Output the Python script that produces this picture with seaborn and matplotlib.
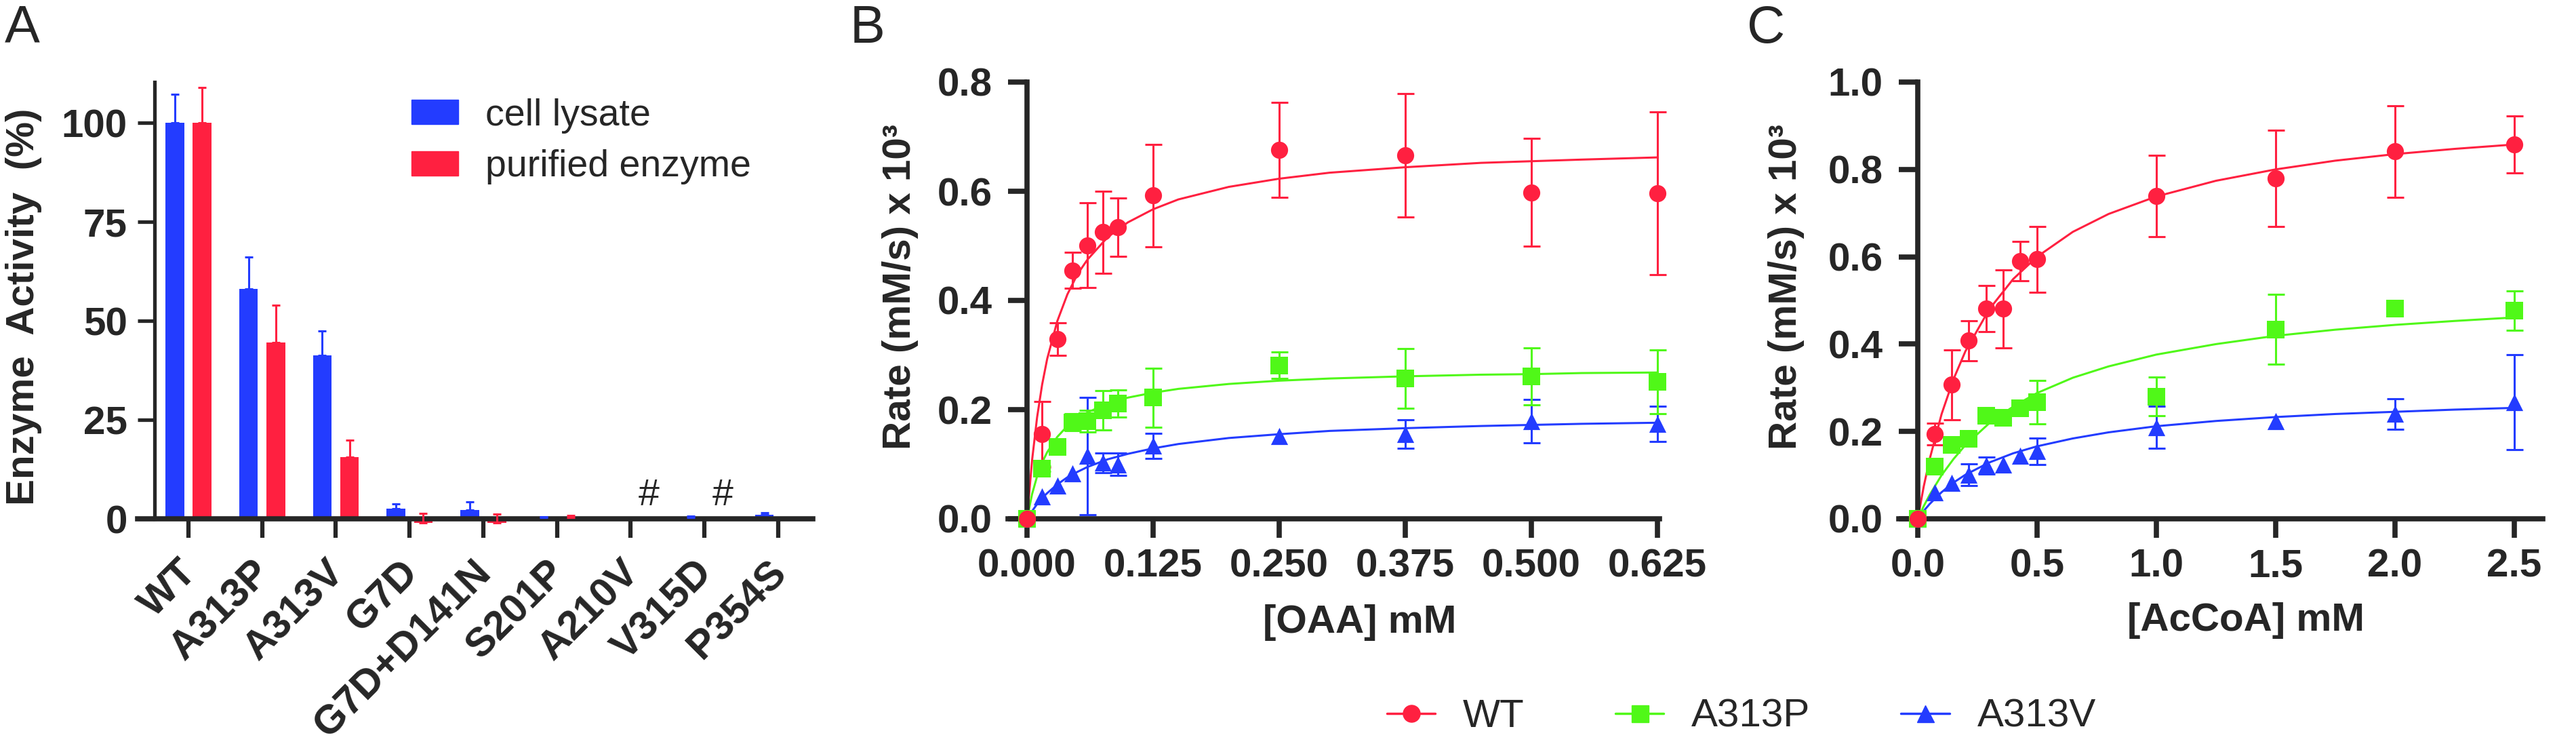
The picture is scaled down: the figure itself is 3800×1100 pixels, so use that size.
import numpy as np
import pandas as pd
import matplotlib
matplotlib.use("Agg")
import matplotlib.pyplot as plt
import seaborn as sns
from matplotlib.lines import Line2D
from matplotlib.patches import Patch
from matplotlib.transforms import ScaledTranslation

# ---------------- panel A: relative activity (%) ----------------
variants = ["WT", "A313P", "A313V", "G7D", "G7D+D141N", "S201P", "A210V", "V315D", "P354S"]
lysate = [100, 58.1, 41.2, 2.5, 2.2, 0.3, -0.4, 0.4, 1.0]
lysate_err = [7.3, 8.0, 6.3, 1.3, 2.0, 0.2, 0, 0.3, 0.6]
purified = [100, 44.5, 15.6, -1.0, -1.0, 0.3, 0, 0, -0.5]
purified_err = [8.9, 9.5, 4.2, 2.3, 2.2, 0.5, 0, 0, 0]
not_detected = ["A210V", "V315D"]

# ---------------- panel B: rate vs [OAA] ----------------
oaa = [0, 0.015, 0.03, 0.045, 0.06, 0.075, 0.09, 0.125, 0.25, 0.375, 0.5, 0.625]
wt_oaa = [0, 0.155, 0.329, 0.455, 0.501, 0.525, 0.534, 0.592, 0.676, 0.666, 0.598, 0.596]
wt_oaa_err = [0, 0.06, 0.03, 0.033, 0.078, 0.075, 0.053, 0.094, 0.087, 0.113, 0.099, 0.149]
p_oaa = [0, 0.092, 0.132, 0.177, 0.179, 0.199, 0.211, 0.222, 0.281, 0.257, 0.261, 0.251]
p_oaa_err = [0, 0.005, 0, 0.015, 0.02, 0.036, 0.025, 0.054, 0.024, 0.055, 0.052, 0.058]
v_oaa = [0, 0.041, 0.061, 0.083, 0.115, 0.103, 0.100, 0.134, 0.151, 0.155, 0.179, 0.174]
v_oaa_err = [0, 0, 0, 0, 0.107, 0.018, 0.021, 0.023, 0, 0.026, 0.04, 0.032]

# fitted curves
oaa_fit = [0, 0.005, 0.01, 0.015, 0.02, 0.03, 0.04, 0.05, 0.06, 0.08, 0.1, 0.125,
           0.15, 0.2, 0.25, 0.3, 0.375, 0.45, 0.5, 0.55, 0.625]
wt_oaa_fit = [0, 0.107, 0.186, 0.246, 0.293, 0.362, 0.411, 0.448, 0.475, 0.516, 0.543, 0.567,
              0.585, 0.608, 0.623, 0.634, 0.644, 0.652, 0.655, 0.658, 0.662]
p_oaa_fit = [0, 0.045, 0.078, 0.103, 0.122, 0.150, 0.170, 0.184, 0.195, 0.211, 0.222, 0.231,
             0.238, 0.247, 0.253, 0.257, 0.261, 0.264, 0.265, 0.267, 0.268]
v_oaa_fit = [0, 0.014, 0.027, 0.038, 0.047, 0.063, 0.076, 0.086, 0.095, 0.109, 0.119, 0.129,
             0.137, 0.148, 0.155, 0.161, 0.166, 0.170, 0.172, 0.174, 0.176]

# ---------------- panel C: rate vs [AcCoA] ----------------
accoa = [0, 0.071, 0.143, 0.214, 0.286, 0.357, 0.429, 0.5, 1.0, 1.5, 2.0, 2.5]
wt_accoa = [0, 0.194, 0.307, 0.408, 0.481, 0.481, 0.590, 0.594, 0.739, 0.779, 0.841, 0.857]
wt_accoa_err = [0, 0.025, 0.08, 0.046, 0.053, 0.089, 0.045, 0.075, 0.093, 0.11, 0.105, 0.065]
p_accoa = [0, 0.12, 0.169, 0.183, 0.236, 0.231, 0.253, 0.267, 0.28, 0.434, 0.481, 0.477]
p_accoa_err = [0, 0, 0, 0, 0, 0, 0, 0.05, 0.044, 0.08, 0, 0.045]
v_accoa = [0, 0.06, 0.082, 0.101, 0.122, 0.125, 0.144, 0.155, 0.21, 0.223, 0.24, 0.267]
v_accoa_err = [0, 0, 0, 0.025, 0.02, 0, 0, 0.03, 0.048, 0, 0.035, 0.109]

accoa_fit = [0, 0.025, 0.05, 0.1, 0.15, 0.2, 0.3, 0.4, 0.5, 0.65, 0.8, 1.0,
             1.25, 1.5, 1.75, 2.0, 2.25, 2.5]
wt_accoa_fit = [0, 0.074, 0.137, 0.240, 0.320, 0.384, 0.480, 0.549, 0.600, 0.657, 0.698, 0.738,
                0.774, 0.800, 0.820, 0.835, 0.847, 0.857]
p_accoa_fit = [0, 0.029, 0.055, 0.100, 0.137, 0.169, 0.219, 0.257, 0.288, 0.323, 0.349, 0.376,
               0.400, 0.419, 0.433, 0.444, 0.453, 0.461]
v_accoa_fit = [0, 0.018, 0.034, 0.061, 0.083, 0.101, 0.129, 0.150, 0.166, 0.184, 0.198, 0.212,
               0.224, 0.233, 0.240, 0.245, 0.250, 0.254]

series = ["WT", "A313P", "A313V"]

RED = "#FF2040"
BLUE = "#233CFF"
GREEN = "#50F818"

sns.set_style("ticks")
plt.rcParams["font.family"] = ["Liberation Sans", "DejaVu Sans"]

W, H = 3800, 1100
fig = plt.figure(figsize=(38, 11), dpi=100)

# ================= A =================
axA = fig.add_axes([228 / W, 1 - 776.7 / H, 971 / W, 655.7 / H])
df_a = pd.DataFrame({
    "variant": variants * 2,
    "source": ["cell lysate"] * len(variants) + ["purified enzyme"] * len(variants),
    "activity": lysate + purified,
})
sns.barplot(data=df_a, x="variant", y="activity", hue="source", order=variants,
            hue_order=["cell lysate", "purified enzyme"], palette=[BLUE, RED],
            width=0.74, gap=0.32, errorbar=None, saturation=1, linewidth=0,
            legend=False, ax=axA)

for cont, err, col in zip(axA.containers, [lysate_err, purified_err], [BLUE, RED]):
    xs = np.array([p.get_x() + p.get_width() / 2 for p in cont])
    ys = np.array([p.get_y() + p.get_height() for p in cont])
    err = np.array(err)
    m = err > 0
    axA.errorbar(xs[m], ys[m], yerr=[np.zeros(m.sum()), err[m]], fmt="none",
                 ecolor=col, elinewidth=2.2, capsize=4.5, capthick=2.2, zorder=3)

for v in not_detected:
    axA.text(variants.index(v) + 0.25, 5.8, "#", ha="center", va="center", fontsize=40)

axA.set_xlim(-0.46, 8.47)
axA.set_ylim(-2, 110.3)
axA.spines[["top", "right"]].set_visible(False)
axA.spines["bottom"].set_position(("data", 0))
axA.spines["bottom"].set_bounds(-0.69, 8.47)
axA.spines["left"].set_bounds(0, 110.3)
axA.spines["left"].set_linewidth(3.8)
axA.spines["bottom"].set_linewidth(5.5)
axA.set_yticks([0, 25, 50, 75, 100])
axA.tick_params(axis="y", length=18, width=3.8, pad=11, labelsize=42)
axA.tick_params(axis="x", length=20, width=4.5, pad=17, labelsize=43)
axA.set_xticks(range(len(variants)))
axA.set_xticklabels(variants, rotation=45, ha="right", va="top",
                    rotation_mode="anchor", fontweight="bold")
for lab in axA.get_xticklabels():
    lab.set_transform(lab.get_transform() + ScaledTranslation(-0.16, 0, fig.dpi_scale_trans))
plt.setp(axA.get_yticklabels(), fontweight="bold")
axA.set_xlabel("")
axA.set_ylabel("Enzyme  Activity  (%)", fontsize=42, fontweight="bold", va="center")
axA.yaxis.set_label_coords(-0.199, 0.495)

axA.legend(handles=[Patch(color=BLUE, label="cell lysate"),
                    Patch(color=RED, label="purified enzyme")],
           loc="center left", bbox_to_anchor=(607 / W, 1 - 208.5 / H),
           bbox_transform=fig.transFigure, frameon=False, fontsize=40,
           handlelength=1.24, handleheight=0.63, handletextpad=0.72,
           labelspacing=0.43, borderpad=0, borderaxespad=0)


# ================= B & C =================
def kinetics_panel(ax, x, ys, errs, x_fit, y_fits, xlim, ylim, xticks, xfmt, yticks,
                   xlabel, xlab_pos, ext):
    colors = [BLUE, GREEN, RED]
    markers = ["^", "s", "o"]
    for yf, col in zip(y_fits[::-1], colors):
        sns.lineplot(x=x_fit, y=yf, color=col, lw=2.2, sort=False, estimator=None,
                     ax=ax, zorder=2)
    for y, e, col, mk in zip(ys[::-1], errs[::-1], colors, markers):
        y = np.array(y)
        e = np.array(e)
        xa = np.array(x)
        m = e > 0
        ax.errorbar(xa[m], y[m], yerr=e[m], fmt="none", ecolor=col, elinewidth=2.2,
                    capsize=9, capthick=2.2, zorder=3, clip_on=False)
        sns.scatterplot(x=x, y=y, color=col, marker=mk, s=330, linewidth=0, ax=ax,
                        zorder=4, clip_on=False)
    ax.set_xlim(*xlim)
    ax.set_ylim(*ylim)
    ax.spines[["top", "right"]].set_visible(False)
    ax.spines["bottom"].set_bounds(-ext, xlim[1])
    for s in ["left", "bottom"]:
        ax.spines[s].set_linewidth(5.5)
    ax.set_xticks(xticks)
    ax.set_xticklabels([xfmt.format(t) for t in xticks], fontweight="bold")
    ax.set_yticks(yticks)
    ax.set_yticklabels([f"{t:.1f}" for t in yticks], fontweight="bold")
    ax.tick_params(axis="y", length=20, width=5.5, pad=17, labelsize=42)
    ax.tick_params(axis="x", length=20, width=5.5, pad=11.5, labelsize=42)
    ax.set_xlabel(xlabel, fontsize=42, fontweight="bold", va="center")
    ax.xaxis.set_label_coords(*xlab_pos)
    ax.set_ylabel("Rate (mM/s) x 10³", fontsize=42, fontweight="bold", va="center")


axB = fig.add_axes([1515 / W, 1 - 765 / H, 933 / W, 644 / H])
kinetics_panel(axB, oaa, [wt_oaa, p_oaa, v_oaa], [wt_oaa_err, p_oaa_err, v_oaa_err],
               oaa_fit, [wt_oaa_fit, p_oaa_fit, v_oaa_fit], (0, 0.627), (0, 0.8),
               [0, 0.125, 0.25, 0.375, 0.5, 0.625], "{:.3f}", [0, 0.2, 0.4, 0.6, 0.8],
               "[OAA] mM", (0.526, -0.2376), 28 / 1488)
axB.yaxis.set_label_coords(-0.2004, 0.531)

axC = fig.add_axes([2829 / W, 1 - 765 / H, 922 / W, 644 / H])
kinetics_panel(axC, accoa, [wt_accoa, p_accoa, v_accoa],
               [wt_accoa_err, p_accoa_err, v_accoa_err],
               accoa_fit, [wt_accoa_fit, p_accoa_fit, v_accoa_fit], (0, 2.62), (0, 1.0),
               [0, 0.5, 1.0, 1.5, 2.0, 2.5], "{:.1f}", [0, 0.2, 0.4, 0.6, 0.8, 1.0],
               "[AcCoA] mM", (0.525, -0.233), 28 / 352)
axC.yaxis.set_label_coords(-0.210, 0.531)

handles = [Line2D([], [], color=c, marker=m, ms=18, lw=2.5, label=l)
           for c, m, l in zip([RED, GREEN, BLUE], ["o", "s", "^"], series)]
fig.legend(handles=handles, loc="center left", bbox_to_anchor=(2046 / W, 1 - 1057 / H),
           ncol=3, frameon=False, fontsize=42, handlelength=1.22, handletextpad=0.7,
           columnspacing=2.3, borderpad=0, borderaxespad=0, numpoints=1)

for lab, x in zip(["A", "B", "C"], [7, 1254, 2577]):
    fig.text(x / W, 1 - 6 / H, lab, fontsize=56, ha="left", va="top")

fig.savefig("out.png", dpi=100)
